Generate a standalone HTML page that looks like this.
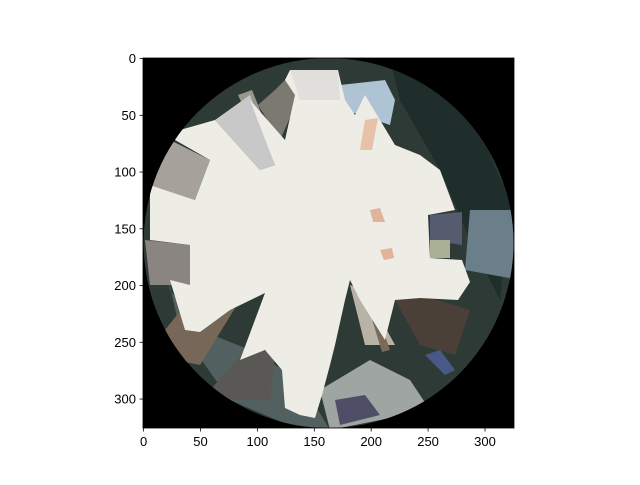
<!DOCTYPE html>
<html><head><meta charset="utf-8"><style>
body{margin:0;background:#fff;}
svg text{font-family:"Liberation Sans",sans-serif;font-size:13px;fill:#000;}
</style></head><body>
<svg id="c" width="640" height="480">
<defs><clipPath id="cc"><circle cx="328.5" cy="243" r="185"/></clipPath></defs>
<rect x="143" y="58" width="371" height="370" fill="#000"/>
<g clip-path="url(#cc)">
<circle cx="328.5" cy="243" r="185" fill="#2e3a36"/>
<polygon fill="#52615f" points="150,200 180,330 230,400 300,430 330,430 300,380 250,350 200,330 170,290"/>
<polygon fill="#1f2e2a" points="390,60 470,110 510,200 500,300 470,240 440,170 400,100"/>
<polygon fill="#6a7f8a" points="470,210 520,210 520,280 465,270"/>
<polygon fill="#555c70" points="430,215 462,212 462,245 430,240"/>
<polygon fill="#a9b096" points="430,240 450,240 450,258 430,258"/>
<polygon fill="#aec3d4" points="340,85 385,80 395,100 390,125 345,110"/>
<polygon fill="#7c7a70" points="258,105 275,90 295,70 300,95 280,140"/>
<polygon fill="#9a968e" points="238,95 252,90 280,160 270,165"/>
<polygon fill="#c8c8c8" points="215,120 250,95 275,165 260,170"/>
<polygon fill="#a6a19a" points="150,150 170,140 210,160 195,200 150,185"/>
<polygon fill="#8a8580" points="145,240 190,245 190,285 150,285"/>
<polygon fill="#776758" points="165,330 205,280 255,273 240,300 200,365 175,360"/>
<polygon fill="#5a5855" points="210,390 250,345 275,355 270,400 230,400"/>
<polygon fill="#9fa5a3" points="320,390 370,360 410,380 430,410 330,430"/>
<polygon fill="#4e4f66" points="335,400 365,395 380,415 340,425"/>
<polygon fill="#4b4038" points="395,300 420,295 470,310 455,355 420,345"/>
<polygon fill="#4a5888" points="425,355 440,350 455,370 445,375"/>
<polygon fill="#b8b3a6" points="350,285 365,290 395,345 365,345"/>
<polygon fill="#7a6a5a" points="360,280 378,315 390,350 382,352"/>
<polygon fill="#eeede5" points="290,70 338,70 345,100 355,115 365,95 380,120 395,145 420,155 440,170 455,210 428,215 430,258 462,260 470,282 458,300 420,298 395,300 385,340 360,300 350,280 345,300 335,345 330,365 322,395 315,418 300,415 285,408 282,370 265,350 240,360 265,293 230,310 200,332 185,330 170,280 190,285 190,245 150,240 150,185 195,200 210,160 175,140 180,130 215,120 260,170 275,165 250,100 285,140 295,95 285,80"/>
<polygon fill="#e0dfdb" points="290,70 338,70 340,100 300,100"/>
<polygon fill="#e0b39a" points="370,210 380,208 385,222 373,222"/>
<polygon fill="#e0b39a" points="380,250 392,248 394,258 384,260"/>
<polygon fill="#e6c2a8" points="365,120 378,118 372,150 360,150"/>
</g>
<g id="axes"></g>
</svg>
<script>
const xTicks=[0,50,100,150,200,250,300];
const yTicks=[0,50,100,150,200,250,300];
const imgSize=[326,326];
const x0=143,y0=58,W=371,H=370;
function sx(v){return x0+0.5*W/imgSize[0]+v*W/imgSize[0];}
function sy(v){return y0+0.5*H/imgSize[1]+v*H/imgSize[1];}
const g=document.getElementById('axes');
const NS='http://www.w3.org/2000/svg';
function mk(t,a){const e=document.createElementNS(NS,t);for(const k in a)e.setAttribute(k,a[k]);g.appendChild(e);return e;}
const fr=mk('rect',{x:x0,y:y0,width:W,height:H,fill:'none',stroke:'#000','stroke-width':0.8});


xTicks.forEach(v=>{const x=sx(v);
const l=mk('line',{x1:x,x2:x,y1:y0+H,y2:y0+H+3.5,stroke:'#000','stroke-width':0.8});


const t=mk('text',{x:x,y:y0+H+18,'text-anchor':'middle'});t.textContent=v;

});
yTicks.forEach(v=>{const y=sy(v);
const l=mk('line',{x1:x0-3.5,x2:x0,y1:y,y2:y,stroke:'#000','stroke-width':0.8});


const t=mk('text',{x:x0-7,y:y+4.5,'text-anchor':'end'});t.textContent=v;

});
</script>
</body></html>
